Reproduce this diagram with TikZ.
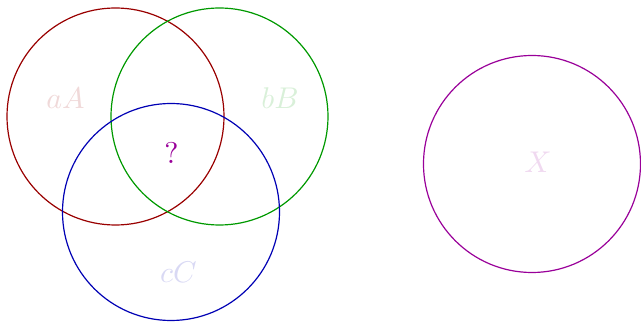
\documentclass[tikz,border=0pt]{standalone}
\definecolor{cred}{RGB}{153,0,0}
\definecolor{cgreen}{RGB}{0,153,0}
\definecolor{cblue}{RGB}{0,0,180}
\definecolor{cpurple}{RGB}{153,0,153}
\begin{document}
\begin{tikzpicture}[x=0.3333pt,y=-0.3333pt,
  ring/.style={draw,circle,minimum size=217*0.3333pt,inner sep=0pt,line width=0.4pt},
  lbl/.style={anchor=base,inner sep=0pt}]
\useasboundingbox (0,0) rectangle (641,322);
\node[ring,cred] (ra) at (115.5,116.5) {};
\node[ring,cgreen] (rb) at (219.5,116.5) {};
\node[ring,cblue] (rc) at (171,212) {};
\node[ring,cpurple] (rx) at (532,164) {};
\node[lbl,text=cred!15] (la) at (65.5,109) {$aA$};
\node[lbl,text=cgreen!15] (lb) at (280,109) {$bB$};
\node[lbl,text=cblue!15] (lc) at (178.5,283) {$cC$};
\node[lbl,text=cpurple!15] (lx) at (538,172.5) {$X$};
\node[lbl,text=cpurple] (lq) at (171.5,164) {?};
\end{tikzpicture}
\end{document}
